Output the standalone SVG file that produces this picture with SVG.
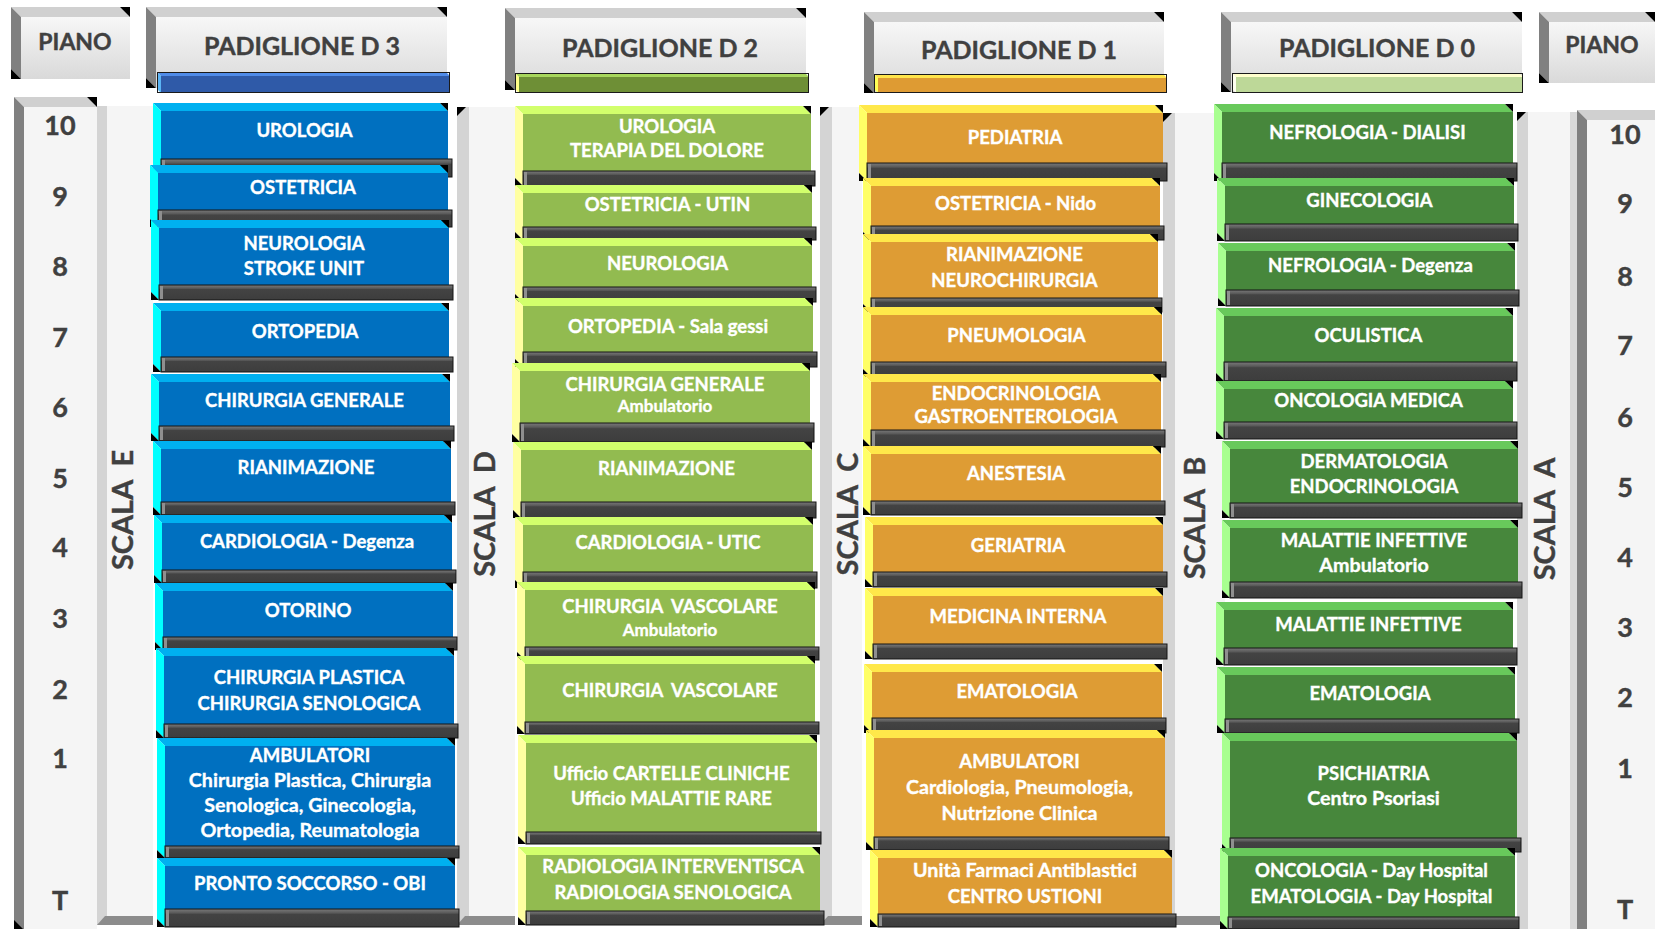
<svg xmlns="http://www.w3.org/2000/svg" width="1655" height="929" viewBox="0 0 1655 929">
<style>
text{font-family:Lato,"Open Sans","DejaVu Sans",sans-serif;font-weight:700}
.t{fill:#fff;stroke:#fff;stroke-width:0.35;text-anchor:middle;font-size:18.5px}
.m{font-size:19.7px}
.s{font-size:17px}
.h{fill:#404040;stroke:#404040;stroke-width:0.4;text-anchor:middle;font-size:25px}
.p{fill:#404040;stroke:#404040;stroke-width:0.4;text-anchor:middle;font-size:23px}
.n{fill:#404040;stroke:#404040;stroke-width:0.4;text-anchor:middle;font-size:27px}
.sc{fill:#404040;stroke:#404040;stroke-width:0.4;text-anchor:middle;font-size:29px}
.k{fill:#000}
.htp{fill:#d0d0d0}.hlf{fill:#808080}.hfc{fill:url(#hdrG)}
.cfc{fill:#f5f5f5}.clf{fill:#d4d4d4}.cbt{fill:#8c8c8c}
.blu .tp{fill:#00b0f0}.blu .lf{fill:#00ffff}.blu .fc{fill:#0070c0}
.grn .tp{fill:#d2ff6c}.grn .lf{fill:#ffffa2}.grn .fc{fill:#92bb50}
.org .tp{fill:#ffe84a}.org .lf{fill:#ffff66}.org .fc{fill:#de9c34}
.dgr .tp{fill:#68c95b}.dgr .lf{fill:#a8ff90}.dgr .fc{fill:#47873c}
.sl{fill:url(#slabG);stroke:#141414;stroke-width:1}
.sh{fill:#8f8f8f}
.bar{fill:none;stroke:#1a1a1a;stroke-width:1}
</style>
<defs>
<linearGradient id="hdrG" x1="0" y1="0" x2="0" y2="1"><stop offset="0" stop-color="#f7f7f7"/><stop offset="1" stop-color="#d9d9d9"/></linearGradient>
<linearGradient id="slabG" x1="0" y1="0" x2="0" y2="1"><stop offset="0" stop-color="#7a7a7a"/><stop offset="0.22" stop-color="#5a5a5a"/><stop offset="0.3" stop-color="#434343"/><stop offset="1" stop-color="#3d3d3d"/></linearGradient>
</defs>
<rect width="1655" height="929" fill="#fff"/>

<!-- Headers -->
<g id="piano-left">
<polygon class="htp" points="11,7 120,7 130,17 21,17"/><polygon class="hlf" points="11,7 21,17 21,79 11,69"/><rect class="hfc" x="21" y="17" width="109" height="62"/><polygon class="k" points="120,7 130,7 130,17"/><polygon class="k" points="11,69 21,79 11,79"/>
<text class="p" x="75" y="50">PIANO</text>
</g>
<g id="hdr-d3">
<polygon class="htp" points="146,7 437,7 447,17 156,17"/><polygon class="hlf" points="146,7 156,17 156,88 146,78"/><rect class="hfc" x="156" y="17" width="291" height="71"/><polygon class="k" points="437,7 447,7 447,17"/><polygon class="k" points="146,78 156,88 146,88"/>
<text class="h" x="302" y="55">PADIGLIONE D 3</text>
<polygon fill="#4f8be8" points="157,72 446,72 450,76 161,76"/><polygon fill="#5bb5f5" points="157,72 161,76 161,93 157,89"/><rect fill="#2f5aa8" x="161" y="76" width="289" height="17"/><rect class="bar" x="157.5" y="72.5" width="292" height="20"/>
</g>
<g id="hdr-d2">
<polygon class="htp" points="505,8 796,8 806,18 515,18"/><polygon class="hlf" points="505,8 515,18 515,90 505,80"/><rect class="hfc" x="515" y="18" width="291" height="72"/><polygon class="k" points="796,8 806,8 806,18"/><polygon class="k" points="505,80 515,90 505,90"/>
<text class="h" x="660" y="57">PADIGLIONE D 2</text>
<polygon fill="#a7d65b" points="515,73 805,73 809,77 519,77"/><polygon fill="#ffff88" points="515,73 519,77 519,93 515,89"/><rect fill="#6e8f36" x="519" y="77" width="290" height="16"/><rect class="bar" x="515.5" y="73.5" width="293" height="19"/>
</g>
<g id="hdr-d1">
<polygon class="htp" points="864,12 1154,12 1164,22 874,22"/><polygon class="hlf" points="864,12 874,22 874,93 864,83"/><rect class="hfc" x="874" y="22" width="290" height="71"/><polygon class="k" points="1154,12 1164,12 1164,22"/><polygon class="k" points="864,83 874,93 864,93"/>
<text class="h" x="1019" y="59">PADIGLIONE D 1</text>
<polygon fill="#ffe44a" points="874,74 1163,74 1167,78 878,78"/><polygon fill="#ffff55" points="874,74 878,78 878,93 874,89"/><rect fill="#de9b33" x="878" y="78" width="289" height="15"/><rect class="bar" x="874.5" y="74.5" width="292" height="18"/>
</g>
<g id="hdr-d0">
<polygon class="htp" points="1221,12 1512,12 1522,22 1231,22"/><polygon class="hlf" points="1221,12 1231,22 1231,92 1221,82"/><rect class="hfc" x="1231" y="22" width="291" height="70"/><polygon class="k" points="1512,12 1522,12 1522,22"/><polygon class="k" points="1221,82 1231,92 1221,92"/>
<text class="h" x="1377" y="57">PADIGLIONE D 0</text>
<polygon fill="#ffffcc" points="1232,73 1519,73 1523,77 1236,77"/><polygon fill="#fffff0" points="1232,73 1236,77 1236,93 1232,89"/><rect fill="#bdd898" x="1236" y="77" width="287" height="16"/><rect class="bar" x="1232.5" y="73.5" width="290" height="19"/>
</g>
<g id="piano-right">
<polygon class="htp" points="1539,12 1645,12 1655,22 1549,22"/><polygon class="hlf" points="1539,12 1549,22 1549,83 1539,73"/><rect class="hfc" x="1549" y="22" width="106" height="61"/><polygon class="k" points="1645,12 1655,12 1655,22"/><polygon class="k" points="1539,73 1549,83 1539,83"/>
<text class="p" x="1602" y="53">PIANO</text>
</g>

<!-- Floor columns -->
<g id="floors-left">
<polygon class="htp" points="14,97 87,97 97,107 24,107"/><polygon class="hlf" points="14,97 24,107 24,929 14,929"/><rect class="cfc" x="24" y="107" width="73" height="822"/><polygon class="k" points="87,97 97,97 97,107"/><polygon class="k" points="14,920 23,929 14,929"/>
<text class="n" x="60" y="135">10</text><text class="n" x="60" y="206">9</text><text class="n" x="60" y="276">8</text><text class="n" x="60" y="347">7</text><text class="n" x="60" y="417">6</text><text class="n" x="60" y="488">5</text><text class="n" x="60" y="557">4</text><text class="n" x="60" y="628">3</text><text class="n" x="60" y="699">2</text><text class="n" x="60" y="768">1</text><text class="n" x="60" y="910">T</text>
</g>
<g id="floors-right">
<polygon class="htp" points="1577,110 1655,110 1655,120 1587,120"/><rect fill="#d9d9d9" x="1570" y="112" width="7" height="817"/><polygon class="hlf" points="1577,110 1587,120 1587,929 1577,929"/><rect class="cfc" x="1587" y="120" width="68" height="809"/>
<text class="n" x="1625" y="144">10</text><text class="n" x="1625" y="213">9</text><text class="n" x="1625" y="286">8</text><text class="n" x="1625" y="355">7</text><text class="n" x="1625" y="427">6</text><text class="n" x="1625" y="497">5</text><text class="n" x="1625" y="567">4</text><text class="n" x="1625" y="637">3</text><text class="n" x="1625" y="707">2</text><text class="n" x="1625" y="778">1</text><text class="n" x="1625" y="919">T</text>
</g>

<!-- Stair columns -->
<g id="scala-e">
<rect class="clf" x="97" y="106" width="10" height="819"/><rect class="cfc" x="107" y="106" width="46" height="819"/><polygon class="cbt" points="105,916 153,916 153,925 97,925"/>
<text class="sc" xml:space="preserve" transform="translate(133,510) rotate(-90)">SCALA  E</text>
</g>
<g id="scala-d">
<rect class="clf" x="457" y="107" width="12" height="818"/><rect class="cfc" x="469" y="107" width="46" height="818"/><polygon class="k" points="457,107 466,107 457,116"/><polygon class="cbt" points="465,916 515,916 515,925 457,925"/>
<text class="sc" xml:space="preserve" transform="translate(495,514) rotate(-90)">SCALA  D</text>
</g>
<g id="scala-c">
<rect class="clf" x="820" y="107" width="12" height="818"/><rect class="cfc" x="832" y="107" width="30" height="818"/><polygon class="k" points="820,107 829,107 820,116"/><polygon class="cbt" points="828,916 862,916 862,925 820,925"/>
<text class="sc" xml:space="preserve" transform="translate(858,514) rotate(-90)">SCALA  C</text>
</g>
<g id="scala-b">
<rect class="clf" x="1163" y="113" width="12" height="812"/><rect class="cfc" x="1175" y="113" width="50" height="812"/><polygon class="k" points="1163,113 1172,113 1163,122"/><polygon class="cbt" points="1171,916 1225,916 1225,925 1163,925"/>
<text class="sc" xml:space="preserve" transform="translate(1205,518) rotate(-90)">SCALA  B</text>
</g>
<g id="scala-a">
<rect class="clf" x="1517" y="112" width="11" height="817"/><rect class="cfc" x="1528" y="112" width="42" height="817"/><polygon class="k" points="1517,112 1526,112 1517,121"/>
<text class="sc" xml:space="preserve" transform="translate(1555,519) rotate(-90)">SCALA  A</text>
</g>

<!-- PADIGLIONE D 3 -->
<g id="d3-1" class="blu"><polygon class="tp" points="153,103 440,103 448,111 161,111"/><polygon class="lf" points="153,103 161,111 161,177 153,169"/><rect class="fc" x="161" y="111" width="287" height="66"/><polygon class="k" points="440,103 448,103 448,111"/><polygon class="k" points="153,169 161,177 153,177"/><rect class="sl" x="161" y="159" width="291" height="18"/><rect class="sh" x="162" y="160" width="3" height="16"/><text class="t" x="304.5" y="137">UROLOGIA</text></g>
<g id="d3-2" class="blu"><polygon class="tp" points="150,165 440,165 448,173 158,173"/><polygon class="lf" points="150,165 158,173 158,227 150,219"/><rect class="fc" x="158" y="173" width="290" height="54"/><polygon class="k" points="440,165 448,165 448,173"/><polygon class="k" points="150,219 158,227 150,227"/><rect class="sl" x="158" y="210" width="294" height="17"/><rect class="sh" x="159" y="211" width="3" height="15"/><text class="t" x="303" y="194">OSTETRICIA</text></g>
<g id="d3-3" class="blu"><polygon class="tp" points="151,220 441,220 449,228 159,228"/><polygon class="lf" points="151,220 159,228 159,300 151,292"/><rect class="fc" x="159" y="228" width="290" height="72"/><polygon class="k" points="441,220 449,220 449,228"/><polygon class="k" points="151,292 159,300 151,300"/><rect class="sl" x="159" y="285" width="294" height="15"/><rect class="sh" x="160" y="286" width="3" height="13"/><text class="t" x="304" y="250">NEUROLOGIA</text><text class="t" x="304" y="275">STROKE UNIT</text></g>
<g id="d3-4" class="blu"><polygon class="tp" points="153,303 441,303 449,311 161,311"/><polygon class="lf" points="153,303 161,311 161,372 153,364"/><rect class="fc" x="161" y="311" width="288" height="61"/><polygon class="k" points="441,303 449,303 449,311"/><polygon class="k" points="153,364 161,372 153,372"/><rect class="sl" x="161" y="357" width="292" height="15"/><rect class="sh" x="162" y="358" width="3" height="13"/><text class="t" x="305" y="338">ORTOPEDIA</text></g>
<g id="d3-5" class="blu"><polygon class="tp" points="151,374 442,374 450,382 159,382"/><polygon class="lf" points="151,374 159,382 159,441 151,433"/><rect class="fc" x="159" y="382" width="291" height="59"/><polygon class="k" points="442,374 450,374 450,382"/><polygon class="k" points="151,433 159,441 151,441"/><rect class="sl" x="159" y="426" width="295" height="15"/><rect class="sh" x="160" y="427" width="3" height="13"/><text class="t" x="304.5" y="407">CHIRURGIA GENERALE</text></g>
<g id="d3-6" class="blu"><polygon class="tp" points="153,441 443,441 451,449 161,449"/><polygon class="lf" points="153,441 161,449 161,515 153,507"/><rect class="fc" x="161" y="449" width="290" height="66"/><polygon class="k" points="443,441 451,441 451,449"/><polygon class="k" points="153,507 161,515 153,515"/><rect class="sl" x="161" y="502" width="294" height="13"/><rect class="sh" x="162" y="503" width="3" height="11"/><text class="t" x="306" y="474">RIANIMAZIONE</text></g>
<g id="d3-7" class="blu"><polygon class="tp" points="154,515 444,515 452,523 162,523"/><polygon class="lf" points="154,515 162,523 162,583 154,575"/><rect class="fc" x="162" y="523" width="290" height="60"/><polygon class="k" points="444,515 452,515 452,523"/><polygon class="k" points="154,575 162,583 154,583"/><rect class="sl" x="162" y="570" width="294" height="13"/><rect class="sh" x="163" y="571" width="3" height="11"/><text class="t" x="307" y="548">CARDIOLOGIA - Degenza</text></g>
<g id="d3-8" class="blu"><polygon class="tp" points="155,583 445,583 453,591 163,591"/><polygon class="lf" points="155,583 163,591 163,650 155,642"/><rect class="fc" x="163" y="591" width="290" height="59"/><polygon class="k" points="445,583 453,583 453,591"/><polygon class="k" points="155,642 163,650 155,650"/><rect class="sl" x="163" y="637" width="294" height="13"/><rect class="sh" x="164" y="638" width="3" height="11"/><text class="t" x="308" y="617">OTORINO</text></g>
<g id="d3-9" class="blu"><polygon class="tp" points="156,648 446,648 454,656 164,656"/><polygon class="lf" points="156,648 164,656 164,738 156,730"/><rect class="fc" x="164" y="656" width="290" height="82"/><polygon class="k" points="446,648 454,648 454,656"/><polygon class="k" points="156,730 164,738 156,738"/><rect class="sl" x="164" y="724" width="294" height="14"/><rect class="sh" x="165" y="725" width="3" height="12"/><text class="t" x="309" y="684">CHIRURGIA PLASTICA</text><text class="t" x="309" y="710">CHIRURGIA SENOLOGICA</text></g>
<g id="d3-10" class="blu"><polygon class="tp" points="157,738 447,738 455,746 165,746"/><polygon class="lf" points="157,738 165,746 165,858 157,850"/><rect class="fc" x="165" y="746" width="290" height="112"/><polygon class="k" points="447,738 455,738 455,746"/><polygon class="k" points="157,850 165,858 157,858"/><rect class="sl" x="165" y="846" width="294" height="12"/><rect class="sh" x="166" y="847" width="3" height="10"/><text class="t" x="310" y="762">AMBULATORI</text><text class="t m" x="310" y="787">Chirurgia Plastica, Chirurgia</text><text class="t m" x="310" y="812">Senologica, Ginecologia,</text><text class="t m" x="310" y="837">Ortopedia, Reumatologia</text></g>
<g id="d3-11" class="blu"><polygon class="tp" points="157,858 447,858 455,866 165,866"/><polygon class="lf" points="157,858 165,866 165,927 157,919"/><rect class="fc" x="165" y="866" width="290" height="61"/><polygon class="k" points="447,858 455,858 455,866"/><polygon class="k" points="157,919 165,927 157,927"/><rect class="sl" x="165" y="909" width="294" height="18"/><rect class="sh" x="166" y="910" width="3" height="16"/><text class="t" x="310" y="890">PRONTO SOCCORSO - OBI</text></g>

<!-- PADIGLIONE D 2 -->
<g id="d2-1" class="grn"><polygon class="tp" points="515,106 803,106 811,114 523,114"/><polygon class="lf" points="515,106 523,114 523,186 515,178"/><rect class="fc" x="523" y="114" width="288" height="72"/><polygon class="k" points="803,106 811,106 811,114"/><polygon class="k" points="515,178 523,186 515,186"/><rect class="sl" x="523" y="171" width="292" height="15"/><rect class="sh" x="524" y="172" width="3" height="13"/><text class="t" x="667" y="133">UROLOGIA</text><text class="t" x="667" y="157">TERAPIA DEL DOLORE</text></g>
<g id="d2-2" class="grn"><polygon class="tp" points="515,185 804,185 812,193 523,193"/><polygon class="lf" points="515,185 523,193 523,240 515,232"/><rect class="fc" x="523" y="193" width="289" height="47"/><polygon class="k" points="804,185 812,185 812,193"/><polygon class="k" points="515,232 523,240 515,240"/><rect class="sl" x="523" y="227" width="293" height="13"/><rect class="sh" x="524" y="228" width="3" height="11"/><text class="t" x="667.5" y="211">OSTETRICIA - UTIN</text></g>
<g id="d2-3" class="grn"><polygon class="tp" points="515,238 804,238 812,246 523,246"/><polygon class="lf" points="515,238 523,246 523,302 515,294"/><rect class="fc" x="523" y="246" width="289" height="56"/><polygon class="k" points="804,238 812,238 812,246"/><polygon class="k" points="515,294 523,302 515,302"/><rect class="sl" x="523" y="287" width="293" height="15"/><rect class="sh" x="524" y="288" width="3" height="13"/><text class="t" x="667.5" y="270">NEUROLOGIA</text></g>
<g id="d2-4" class="grn"><polygon class="tp" points="515,298 805,298 813,306 523,306"/><polygon class="lf" points="515,298 523,306 523,367 515,359"/><rect class="fc" x="523" y="306" width="290" height="61"/><polygon class="k" points="805,298 813,298 813,306"/><polygon class="k" points="515,359 523,367 515,367"/><rect class="sl" x="523" y="352" width="294" height="15"/><rect class="sh" x="524" y="353" width="3" height="13"/><text class="t" x="668" y="333">ORTOPEDIA - Sala gessi</text></g>
<g id="d2-5" class="grn"><polygon class="tp" points="512,363 802,363 810,371 520,371"/><polygon class="lf" points="512,363 520,371 520,442 512,434"/><rect class="fc" x="520" y="371" width="290" height="71"/><polygon class="k" points="802,363 810,363 810,371"/><polygon class="k" points="512,434 520,442 512,442"/><rect class="sl" x="520" y="423" width="294" height="19"/><rect class="sh" x="521" y="424" width="3" height="17"/><text class="t" x="665" y="391">CHIRURGIA GENERALE</text><text class="t s" x="665" y="412">Ambulatorio</text></g>
<g id="d2-6" class="grn"><polygon class="tp" points="513,442 804,442 812,450 521,450"/><polygon class="lf" points="513,442 521,450 521,518 513,510"/><rect class="fc" x="521" y="450" width="291" height="68"/><polygon class="k" points="804,442 812,442 812,450"/><polygon class="k" points="513,510 521,518 513,518"/><rect class="sl" x="521" y="502" width="295" height="16"/><rect class="sh" x="522" y="503" width="3" height="14"/><text class="t" x="666.5" y="475">RIANIMAZIONE</text></g>
<g id="d2-7" class="grn"><polygon class="tp" points="515,517 805,517 813,525 523,525"/><polygon class="lf" points="515,517 523,525 523,588 515,580"/><rect class="fc" x="523" y="525" width="290" height="63"/><polygon class="k" points="805,517 813,517 813,525"/><polygon class="k" points="515,580 523,588 515,588"/><rect class="sl" x="523" y="572" width="294" height="16"/><rect class="sh" x="524" y="573" width="3" height="14"/><text class="t" x="668" y="549">CARDIOLOGIA - UTIC</text></g>
<g id="d2-8" class="grn"><polygon class="tp" points="517,582 807,582 815,590 525,590"/><polygon class="lf" points="517,582 525,590 525,660 517,652"/><rect class="fc" x="525" y="590" width="290" height="70"/><polygon class="k" points="807,582 815,582 815,590"/><polygon class="k" points="517,652 525,660 517,660"/><rect class="sl" x="525" y="647" width="294" height="13"/><rect class="sh" x="526" y="648" width="3" height="11"/><text class="t" x="670" y="613" xml:space="preserve">CHIRURGIA  VASCOLARE</text><text class="t s" x="670" y="636">Ambulatorio</text></g>
<g id="d2-9" class="grn"><polygon class="tp" points="517,656 807,656 815,664 525,664"/><polygon class="lf" points="517,656 525,664 525,734 517,726"/><rect class="fc" x="525" y="664" width="290" height="70"/><polygon class="k" points="807,656 815,656 815,664"/><polygon class="k" points="517,726 525,734 517,734"/><rect class="sl" x="525" y="722" width="294" height="12"/><rect class="sh" x="526" y="723" width="3" height="10"/><text class="t" x="670" y="697" xml:space="preserve">CHIRURGIA  VASCOLARE</text></g>
<g id="d2-10" class="grn"><polygon class="tp" points="518,735 809,735 817,743 526,743"/><polygon class="lf" points="518,735 526,743 526,844 518,836"/><rect class="fc" x="526" y="743" width="291" height="101"/><polygon class="k" points="809,735 817,735 817,743"/><polygon class="k" points="518,836 526,844 518,844"/><rect class="sl" x="526" y="832" width="295" height="12"/><rect class="sh" x="527" y="833" width="3" height="10"/><text class="t" x="671.5" y="780">Ufficio CARTELLE CLINICHE</text><text class="t" x="671.5" y="805">Ufficio MALATTIE RARE</text></g>
<g id="d2-11" class="grn"><polygon class="tp" points="518,847 812,847 820,855 526,855"/><polygon class="lf" points="518,847 526,855 526,925 518,917"/><rect class="fc" x="526" y="855" width="294" height="70"/><polygon class="k" points="812,847 820,847 820,855"/><polygon class="k" points="518,917 526,925 518,925"/><rect class="sl" x="526" y="911" width="298" height="14"/><rect class="sh" x="527" y="912" width="3" height="12"/><text class="t" x="673" y="873">RADIOLOGIA INTERVENTISCA</text><text class="t" x="673" y="899">RADIOLOGIA SENOLOGICA</text></g>

<!-- PADIGLIONE D 1 -->
<g id="d1-1" class="org"><polygon class="tp" points="859,105 1155,105 1163,113 867,113"/><polygon class="lf" points="859,105 867,113 867,181 859,173"/><rect class="fc" x="867" y="113" width="296" height="68"/><polygon class="k" points="1155,105 1163,105 1163,113"/><polygon class="k" points="859,173 867,181 859,181"/><rect class="sl" x="867" y="163" width="300" height="18"/><rect class="sh" x="868" y="164" width="3" height="16"/><text class="t" x="1015" y="144">PEDIATRIA</text></g>
<g id="d1-2" class="org"><polygon class="tp" points="863,178 1152,178 1160,186 871,186"/><polygon class="lf" points="863,178 871,186 871,240 863,232"/><rect class="fc" x="871" y="186" width="289" height="54"/><polygon class="k" points="1152,178 1160,178 1160,186"/><polygon class="k" points="863,232 871,240 863,240"/><rect class="sl" x="871" y="226" width="293" height="14"/><rect class="sh" x="872" y="227" width="3" height="12"/><text class="t" x="1015.5" y="210">OSTETRICIA - Nido</text></g>
<g id="d1-3" class="org"><polygon class="tp" points="863,234 1150,234 1158,242 871,242"/><polygon class="lf" points="863,234 871,242 871,312 863,304"/><rect class="fc" x="871" y="242" width="287" height="70"/><polygon class="k" points="1150,234 1158,234 1158,242"/><polygon class="k" points="863,304 871,312 863,312"/><rect class="sl" x="871" y="298" width="291" height="14"/><rect class="sh" x="872" y="299" width="3" height="12"/><text class="t" x="1014.5" y="261">RIANIMAZIONE</text><text class="t" x="1014.5" y="287">NEUROCHIRURGIA</text></g>
<g id="d1-4" class="org"><polygon class="tp" points="863,307 1154,307 1162,315 871,315"/><polygon class="lf" points="863,307 871,315 871,377 863,369"/><rect class="fc" x="871" y="315" width="291" height="62"/><polygon class="k" points="1154,307 1162,307 1162,315"/><polygon class="k" points="863,369 871,377 863,377"/><rect class="sl" x="871" y="362" width="295" height="15"/><rect class="sh" x="872" y="363" width="3" height="13"/><text class="t" x="1016.5" y="342">PNEUMOLOGIA</text></g>
<g id="d1-5" class="org"><polygon class="tp" points="863,374 1153,374 1161,382 871,382"/><polygon class="lf" points="863,374 871,382 871,447 863,439"/><rect class="fc" x="871" y="382" width="290" height="65"/><polygon class="k" points="1153,374 1161,374 1161,382"/><polygon class="k" points="863,439 871,447 863,447"/><rect class="sl" x="871" y="430" width="294" height="17"/><rect class="sh" x="872" y="431" width="3" height="15"/><text class="t" x="1016" y="400">ENDOCRINOLOGIA</text><text class="t" x="1016" y="423">GASTROENTEROLOGIA</text></g>
<g id="d1-6" class="org"><polygon class="tp" points="863,446 1153,446 1161,454 871,454"/><polygon class="lf" points="863,446 871,454 871,515 863,507"/><rect class="fc" x="871" y="454" width="290" height="61"/><polygon class="k" points="1153,446 1161,446 1161,454"/><polygon class="k" points="863,507 871,515 863,515"/><rect class="sl" x="871" y="501" width="294" height="14"/><rect class="sh" x="872" y="502" width="3" height="12"/><text class="t" x="1016" y="480">ANESTESIA</text></g>
<g id="d1-7" class="org"><polygon class="tp" points="865,517 1155,517 1163,525 873,525"/><polygon class="lf" points="865,517 873,525 873,587 865,579"/><rect class="fc" x="873" y="525" width="290" height="62"/><polygon class="k" points="1155,517 1163,517 1163,525"/><polygon class="k" points="865,579 873,587 865,587"/><rect class="sl" x="873" y="572" width="294" height="15"/><rect class="sh" x="874" y="573" width="3" height="13"/><text class="t" x="1018" y="552">GERIATRIA</text></g>
<g id="d1-8" class="org"><polygon class="tp" points="865,588 1155,588 1163,596 873,596"/><polygon class="lf" points="865,588 873,596 873,659 865,651"/><rect class="fc" x="873" y="596" width="290" height="63"/><polygon class="k" points="1155,588 1163,588 1163,596"/><polygon class="k" points="865,651 873,659 865,659"/><rect class="sl" x="873" y="644" width="294" height="15"/><rect class="sh" x="874" y="645" width="3" height="13"/><text class="t" x="1018" y="623">MEDICINA INTERNA</text></g>
<g id="d1-9" class="org"><polygon class="tp" points="864,664 1154,664 1162,672 872,672"/><polygon class="lf" points="864,664 872,672 872,733 864,725"/><rect class="fc" x="872" y="672" width="290" height="61"/><polygon class="k" points="1154,664 1162,664 1162,672"/><polygon class="k" points="864,725 872,733 864,733"/><rect class="sl" x="872" y="718" width="294" height="15"/><rect class="sh" x="873" y="719" width="3" height="13"/><text class="t" x="1017" y="698">EMATOLOGIA</text></g>
<g id="d1-10" class="org"><polygon class="tp" points="866,730 1157,730 1165,738 874,738"/><polygon class="lf" points="866,730 874,738 874,850 866,842"/><rect class="fc" x="874" y="738" width="291" height="112"/><polygon class="k" points="1157,730 1165,730 1165,738"/><polygon class="k" points="866,842 874,850 866,850"/><rect class="sl" x="874" y="837" width="295" height="13"/><rect class="sh" x="875" y="838" width="3" height="11"/><text class="t" x="1019.5" y="768">AMBULATORI</text><text class="t m" x="1019.5" y="794">Cardiologia, Pneumologia,</text><text class="t m" x="1019.5" y="820">Nutrizione Clinica</text></g>
<g id="d1-11" class="org"><polygon class="tp" points="870,850 1164,850 1172,858 878,858"/><polygon class="lf" points="870,850 878,858 878,927 870,919"/><rect class="fc" x="878" y="858" width="294" height="69"/><polygon class="k" points="1164,850 1172,850 1172,858"/><polygon class="k" points="870,919 878,927 870,927"/><rect class="sl" x="878" y="914" width="298" height="13"/><rect class="sh" x="879" y="915" width="3" height="11"/><text class="t m" x="1025" y="877">Unità Farmaci Antiblastici</text><text class="t" x="1025" y="903">CENTRO USTIONI</text></g>

<!-- PADIGLIONE D 0 -->
<g id="d0-1" class="dgr"><polygon class="tp" points="1214,104 1505,104 1513,112 1222,112"/><polygon class="lf" points="1214,104 1222,112 1222,181 1214,173"/><rect class="fc" x="1222" y="112" width="291" height="69"/><polygon class="k" points="1505,104 1513,104 1513,112"/><polygon class="k" points="1214,173 1222,181 1214,181"/><rect class="sl" x="1222" y="163" width="295" height="18"/><rect class="sh" x="1223" y="164" width="3" height="16"/><text class="t" x="1367.5" y="139">NEFROLOGIA - DIALISI</text></g>
<g id="d0-2" class="dgr"><polygon class="tp" points="1217,178 1506,178 1514,186 1225,186"/><polygon class="lf" points="1217,178 1225,186 1225,241 1217,233"/><rect class="fc" x="1225" y="186" width="289" height="55"/><polygon class="k" points="1506,178 1514,178 1514,186"/><polygon class="k" points="1217,233 1225,241 1217,241"/><rect class="sl" x="1225" y="224" width="293" height="17"/><rect class="sh" x="1226" y="225" width="3" height="15"/><text class="t" x="1369.5" y="207">GINECOLOGIA</text></g>
<g id="d0-3" class="dgr"><polygon class="tp" points="1218,243 1507,243 1515,251 1226,251"/><polygon class="lf" points="1218,243 1226,251 1226,306 1218,298"/><rect class="fc" x="1226" y="251" width="289" height="55"/><polygon class="k" points="1507,243 1515,243 1515,251"/><polygon class="k" points="1218,298 1226,306 1218,306"/><rect class="sl" x="1226" y="290" width="293" height="16"/><rect class="sh" x="1227" y="291" width="3" height="14"/><text class="t" x="1370.5" y="272">NEFROLOGIA - Degenza</text></g>
<g id="d0-4" class="dgr"><polygon class="tp" points="1216,308 1505,308 1513,316 1224,316"/><polygon class="lf" points="1216,308 1224,316 1224,381 1216,373"/><rect class="fc" x="1224" y="316" width="289" height="65"/><polygon class="k" points="1505,308 1513,308 1513,316"/><polygon class="k" points="1216,373 1224,381 1216,381"/><rect class="sl" x="1224" y="362" width="293" height="19"/><rect class="sh" x="1225" y="363" width="3" height="17"/><text class="t" x="1368.5" y="342">OCULISTICA</text></g>
<g id="d0-5" class="dgr"><polygon class="tp" points="1216,381 1505,381 1513,389 1224,389"/><polygon class="lf" points="1216,381 1224,389 1224,439 1216,431"/><rect class="fc" x="1224" y="389" width="289" height="50"/><polygon class="k" points="1505,381 1513,381 1513,389"/><polygon class="k" points="1216,431 1224,439 1216,439"/><rect class="sl" x="1224" y="422" width="293" height="17"/><rect class="sh" x="1225" y="423" width="3" height="15"/><text class="t" x="1368.5" y="407">ONCOLOGIA MEDICA</text></g>
<g id="d0-6" class="dgr"><polygon class="tp" points="1222,441 1510,441 1518,449 1230,449"/><polygon class="lf" points="1222,441 1230,449 1230,518 1222,510"/><rect class="fc" x="1230" y="449" width="288" height="69"/><polygon class="k" points="1510,441 1518,441 1518,449"/><polygon class="k" points="1222,510 1230,518 1222,518"/><rect class="sl" x="1230" y="503" width="292" height="15"/><rect class="sh" x="1231" y="504" width="3" height="13"/><text class="t" x="1374" y="468">DERMATOLOGIA</text><text class="t" x="1374" y="493">ENDOCRINOLOGIA</text></g>
<g id="d0-7" class="dgr"><polygon class="tp" points="1222,520 1510,520 1518,528 1230,528"/><polygon class="lf" points="1222,520 1230,528 1230,598 1222,590"/><rect class="fc" x="1230" y="528" width="288" height="70"/><polygon class="k" points="1510,520 1518,520 1518,528"/><polygon class="k" points="1222,590 1230,598 1222,598"/><rect class="sl" x="1230" y="582" width="292" height="16"/><rect class="sh" x="1231" y="583" width="3" height="14"/><text class="t" x="1374" y="547">MALATTIE INFETTIVE</text><text class="t m" x="1374" y="572">Ambulatorio</text></g>
<g id="d0-8" class="dgr"><polygon class="tp" points="1216,602 1505,602 1513,610 1224,610"/><polygon class="lf" points="1216,602 1224,610 1224,665 1216,657"/><rect class="fc" x="1224" y="610" width="289" height="55"/><polygon class="k" points="1505,602 1513,602 1513,610"/><polygon class="k" points="1216,657 1224,665 1216,665"/><rect class="sl" x="1224" y="648" width="293" height="17"/><rect class="sh" x="1225" y="649" width="3" height="15"/><text class="t" x="1368.5" y="631">MALATTIE INFETTIVE</text></g>
<g id="d0-9" class="dgr"><polygon class="tp" points="1217,667 1507,667 1515,675 1225,675"/><polygon class="lf" points="1217,667 1225,675 1225,733 1217,725"/><rect class="fc" x="1225" y="675" width="290" height="58"/><polygon class="k" points="1507,667 1515,667 1515,675"/><polygon class="k" points="1217,725 1225,733 1217,733"/><rect class="sl" x="1225" y="719" width="294" height="14"/><rect class="sh" x="1226" y="720" width="3" height="12"/><text class="t" x="1370" y="700">EMATOLOGIA</text></g>
<g id="d0-10" class="dgr"><polygon class="tp" points="1222,733 1509,733 1517,741 1230,741"/><polygon class="lf" points="1222,733 1230,741 1230,852 1222,844"/><rect class="fc" x="1230" y="741" width="287" height="111"/><polygon class="k" points="1509,733 1517,733 1517,741"/><polygon class="k" points="1222,844 1230,852 1222,852"/><rect class="sl" x="1230" y="838" width="291" height="14"/><rect class="sh" x="1231" y="839" width="3" height="12"/><text class="t" x="1373.5" y="780">PSICHIATRIA</text><text class="t m" x="1373.5" y="805">Centro Psoriasi</text></g>
<g id="d0-11" class="dgr"><polygon class="tp" points="1220,848 1507,848 1515,856 1228,856"/><polygon class="lf" points="1220,848 1228,856 1228,929 1220,921"/><rect class="fc" x="1228" y="856" width="287" height="73"/><polygon class="k" points="1507,848 1515,848 1515,856"/><polygon class="k" points="1220,921 1228,929 1220,929"/><rect class="sl" x="1228" y="917" width="291" height="12"/><rect class="sh" x="1229" y="918" width="3" height="10"/><text class="t" x="1371.5" y="877">ONCOLOGIA - Day Hospital</text><text class="t" x="1371.5" y="903">EMATOLOGIA - Day Hospital</text></g>
</svg>
